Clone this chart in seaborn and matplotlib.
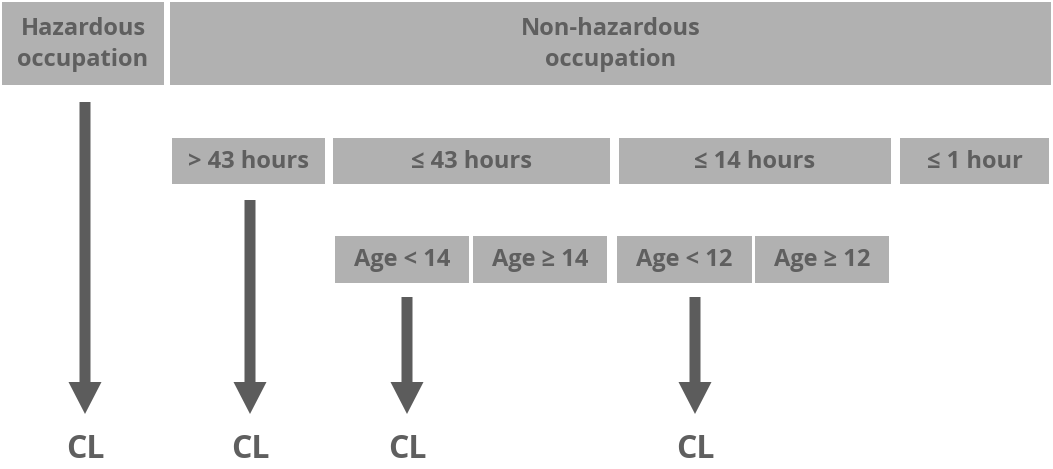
"""Child labour decision diagram, redrawn with seaborn/matplotlib."""

import matplotlib
matplotlib.use("Agg")
import matplotlib.pyplot as plt
import seaborn as sns

# --- content ---
box_labels = [
    "Hazardous\noccupation", "Non-hazardous\noccupation",
    "> 43 hours", "≤ 43 hours", "≤ 14 hours", "≤ 1 hour",
    "Age < 14", "Age \u2265 14", "Age < 12", "Age \u2265 12",
]
outcome_label = "CL"

# --- layout (pixel coordinates: left, top, right, bottom) ---
box_left = [2, 170, 172, 333, 619, 900, 335, 473, 617, 755]
box_top = [2, 2, 138, 138, 138, 138, 236, 236, 236, 236]
box_right = [164, 1051, 325, 610, 891, 1049, 469, 607, 752, 889]
box_bottom = [85, 85, 184, 184, 184, 184, 283, 283, 283, 283]
box_fontsize = [17, 17, 17, 17, 17, 17, 17, 17, 17, 17]

arrow_x = [85, 250, 407, 695]
arrow_start = [102, 200, 297, 297]
arrow_end = [414, 414, 414, 414]
cl_y = 450

BOX = "#b1b1b1"
TEXT = "#5f5f5f"
ARROW = "#5c5c5c"

sns.set_theme(style="white")
plt.rcParams["font.family"] = ["Open Sans", "DejaVu Sans"]

fig = plt.figure(figsize=(10.53, 4.69), dpi=100)
ax = fig.add_axes([0, 0, 1, 1])
ax.set_xlim(0, 1053)
ax.set_ylim(469, 0)
ax.axis("off")

widths = [r - l for l, r in zip(box_left, box_right)]
heights = [b - t for t, b in zip(box_top, box_bottom)]
ax.bar(box_left, heights, width=widths, bottom=box_top, align="edge",
       color=BOX, edgecolor="none")

for lab, l, r, t, b, fs in zip(box_labels, box_left, box_right, box_top,
                               box_bottom, box_fontsize):
    ax.text((l + r) / 2, (t + b) / 2 + 1, lab, ha="center", va="center",
            fontsize=fs, fontweight="bold", color=TEXT, linespacing=1.42)

for x, y0, y1 in zip(arrow_x, arrow_start, arrow_end):
    ax.arrow(x, y0, 0, y1 - y0, width=11, head_width=33, head_length=32,
             length_includes_head=True, color=ARROW, linewidth=0)
    ax.text(x, cl_y, outcome_label, ha="center", va="center",
            fontsize=23, fontweight="bold", color=TEXT)

fig.savefig("out.png", dpi=100)
